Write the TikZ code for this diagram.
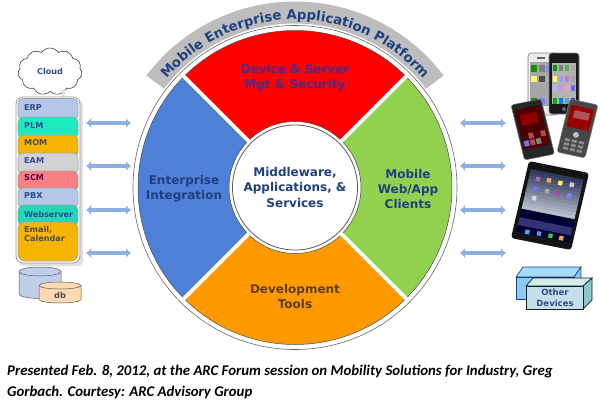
\documentclass[tikz,border=0pt]{standalone}
\usepackage{fontspec}
\setmainfont{DejaVu Sans}
\newfontfamily\capfont{Carlito}
\usetikzlibrary{arrows.meta,shapes.geometric,shapes.symbols,decorations.text}
\definecolor{navy}{HTML}{20407F}
\definecolor{stacktext}{HTML}{2F4B8F}
\definecolor{dblue}{HTML}{8FB0DE}
\definecolor{segred}{HTML}{FF0000}
\definecolor{segblue}{HTML}{4F80D8}
\definecolor{seggreen}{HTML}{92D050}
\definecolor{segorange}{HTML}{FF9900}
\definecolor{band}{HTML}{BDBDBD}
\definecolor{bluecell}{HTML}{B4C7E7}
\definecolor{teal1}{HTML}{1CEBC0}
\definecolor{teal2}{HTML}{20D8B8}
\definecolor{amber}{HTML}{F5B400}
\definecolor{greycell}{HTML}{D2D2D2}
\definecolor{pink}{HTML}{F98080}
\definecolor{skytop}{HTML}{2E3A5E}
\definecolor{skylow}{HTML}{B8BECB}
\newcommand\bxf[5]{\fill[#1] (#2,#3) -- (#4,#3) -- (#4,#5) -- (#2,#5) -- cycle;}
\tikzset{
  x=1pt,y=-1pt,
  dbl/.style={line width=4.4pt,dblue,{Latex[length=5pt,width=10pt]}-{Latex[length=5pt,width=10pt]}},
  cell/.style={draw=black!35,line width=.7pt,rounded corners=5pt},
  celltext/.style={font=\bfseries\fontsize{8.1}{9.6}\selectfont,text=stacktext,anchor=west,inner sep=0pt,align=left},
  seg/.style={draw=black!70,line width=.5pt},
  segtext/.style={font=\bfseries\fontsize{12}{15.3}\selectfont,text=navy,align=center,inner sep=0pt},
  boxtext/.style={font=\bfseries\fontsize{8.5}{11}\selectfont,text=stacktext,align=center,inner sep=0pt},
  captext/.style={font=\capfont\bfseries\itshape\fontsize{14.8}{16}\selectfont,text=black,anchor=base west,inner sep=0pt},
  gap/.style={white,line width=3.6pt},
  cylline/.style={draw=black!65,line width=.5pt}
}
\begin{document}
\begin{tikzpicture}
\useasboundingbox (0,0) rectangle (600,400);
\fill[white] (0,0) rectangle (600,400);

% ---------- gray band + wheel
\begin{scope}[shift={(295,187.5)},y=1pt]
  \fill[band] (143:164) arc[start angle=143,end angle=37,radius=164] -- (37:186) arc[start angle=37,end angle=143,radius=186] -- cycle;
  \fill[white,draw=black!60,line width=.6pt] (0,0) circle[radius=162];
  \path[seg,fill=segred] (45:66) -- (45:157) arc[start angle=45,end angle=135,radius=157] -- (135:66) arc[start angle=135,end angle=45,radius=66] -- cycle;
  \path[seg,fill=seggreen] (-45:66) -- (-45:157) arc[start angle=-45,end angle=45,radius=157] -- (45:66) arc[start angle=45,end angle=-45,radius=66] -- cycle;
  \path[seg,fill=segorange] (225:66) -- (225:157) arc[start angle=225,end angle=315,radius=157] -- (315:66) arc[start angle=315,end angle=225,radius=66] -- cycle;
  \path[seg,fill=segblue] (135:66) -- (135:157) arc[start angle=135,end angle=225,radius=157] -- (225:66) arc[start angle=225,end angle=135,radius=66] -- cycle;
  \foreach \a in {45,135,225,315}{\draw[gap] (\a:64) -- (\a:159);}
  \fill[white,draw=black!65,line width=.8pt] (0,0) circle[radius=62.5];
  \path[decorate,decoration={text along path,text align=center,
     text={|\bfseries\fontsize{13.3}{15}\selectfont\color{navy}|Mobile Enterprise Application Platform}}]
     (146:168) arc[start angle=146,end angle=34,radius=168];
\end{scope}

\node[segtext] (device) at (295,78) {\textcolor[HTML]{4A2A8C}{Device \& Server}\\\textcolor[HTML]{4A2A8C}{Mgt \& Security}};
\node[segtext] (middle) at (295,187.5) {Middleware,\\Applications, \&\\Services};
\node[segtext] (enterprise) at (184,189) {Enterprise\\Integration};
\node[segtext] (mobile) at (408,189) {Mobile\\Web/App\\Clients};
\node[segtext,text=black!20!brown!60!black] (devtools) at (295,296.5) {Development\\Tools};

% ---------- arrows
\foreach \n/\yy in {1/123,2/166,3/210,4/253}{
  \coordinate (la\n) at (86,\yy);
  \coordinate (lb\n) at (131,\yy);
  \coordinate (ra\n) at (460,\yy);
  \coordinate (rb\n) at (506,\yy);
  \draw[dbl] (la\n) -- (lb\n);
  \draw[dbl] (ra\n) -- (rb\n);
}

% ---------- cloud
\node[cloud,cloud puffs=11,cloud puff arc=110,draw=black!75,fill=white,line width=.6pt,minimum width=64pt,minimum height=47pt,inner sep=0pt,font=\bfseries\fontsize{8.1}{9}\selectfont,text=stacktext] (cloud) at (50,71.5) {Cloud};

% ---------- stack
\fill[black!12] (62,90) rectangle (65,97);
\fill[black!12,rounded corners=5pt] (19,100) rectangle (83,266);
\draw[fill=white,draw=black!40,line width=.8pt,rounded corners=7pt] (16,97) rectangle (80,263);
\draw[cell,fill=bluecell] (18,98.5) rectangle (78,120);
\draw[cell,fill=teal1] (18,117) rectangle (78,139);
\draw[cell,fill=amber] (18,135) rectangle (78,157);
\draw[cell,fill=greycell] (18,153) rectangle (78,174);
\draw[cell,fill=pink] (18,171) rectangle (78,191);
\draw[cell,fill=bluecell] (18,188) rectangle (78,208);
\draw[cell,fill=teal2] (18,205) rectangle (78,226);
\draw[cell,fill=amber,rounded corners=7pt] (18,222) rectangle (78,261);
\node[celltext] (erp) at (24,108) {ERP};
\node[celltext] (plm) at (24,125.5) {PLM};
\node[celltext,text=black!70] (mom) at (24,143) {MOM};
\node[celltext] (eam) at (24,161) {EAM};
\node[celltext,text=violet!70!black] (scm) at (24,178) {SCM};
\node[celltext] (pbx) at (24,196) {PBX};
\node[celltext] (web) at (24,214) {Webserver};
\node[celltext,anchor=north west,text=black!70] (mail) at (24,226) {Email,\\Calendar};

% ---------- db
\draw[cylline,fill=bluecell!85!white] (19,271.5) -- (19,294) arc[start angle=180,end angle=360,x radius=21,y radius=-4.5] -- (61,271.5) arc[start angle=0,end angle=180,x radius=21,y radius=-4.5] -- cycle;
\draw[cylline] (19,271.5) arc[start angle=180,end angle=360,x radius=21,y radius=-4.5];
\draw[cylline,fill=orange!30!white] (39,285.5) -- (39,299.5) arc[start angle=180,end angle=360,x radius=21,y radius=-3.5] -- (81,285.5) arc[start angle=0,end angle=180,x radius=21,y radius=-3.5] -- cycle;
\draw[cylline] (39,285.5) arc[start angle=180,end angle=360,x radius=21,y radius=-3.5];
\node[font=\bfseries\fontsize{8.1}{9}\selectfont,text=black!70,inner sep=0pt] (db) at (60,295) {db};

% ---------- other devices
\draw[draw=navy,line width=.7pt,fill=blue!40!cyan!35!white] (516,277) -- (523,267) -- (581,267) -- (574,277) -- cycle;
\draw[draw=navy,line width=.7pt,fill=blue!45!cyan!45!white] (574,277) -- (581,267) -- (581,289) -- (574,299) -- cycle;
\draw[draw=navy,line width=.7pt,fill=blue!45!cyan!45!white] (516,277) rectangle (574,299);
\draw[draw=black!70!teal,line width=.7pt,fill=teal!15!white] (526,286) -- (533,278) -- (592,278) -- (583,286) -- cycle;
\draw[draw=black!70!teal,line width=.7pt,fill=teal!45!white] (583,286) -- (592,278) -- (592,300) -- (583,309) -- cycle;
\draw[draw=black!70!teal,line width=.7pt,fill=cyan!25!teal!25!white] (526,286) rectangle (583,309);
\node[boxtext] (other) at (555,297.5) {Other\\Devices};

% ---------- iPad
\begin{scope}[shift={(529,161)},x={(60pt,-12pt)},y={(-18pt,-77pt)}]
  \fill[black!92,rounded corners=3pt] (0,0) -- (1,0) -- (1,1) -- (0,1) -- cycle;
  \foreach \i in {0,...,11}{
    \pgfmathsetmacro\p{100-\i*9}
    \pgfmathsetmacro\va{.095+\i*.043}
    \pgfmathsetmacro\vb{.145+\i*.043}
    \pgfmathsetmacro\pp{100-\p}
    \bxf{skylow!\pp!skytop}{.06}{\va}{.94}{\vb}
  }
  \bxf{black!80!blue}{.06}{.61}{.94}{.91}
  \bxf{black!55!blue!60!gray}{.06}{.72}{.94}{.82}
  \foreach \u/\v/\c in {.21/.2/violet!60!white,.39/.19/orange!70!white,.58/.196/yellow!70!white,.77/.188/gray!40!violet!30!white,
     .21/.33/blue!55!white,.4/.33/gray!70!white,.58/.33/violet!70!white,.77/.33/blue!50!white,.22/.448/white!70!gray,
     .237/.885/blue!50!cyan!70!white,.43/.875/cyan!60!blue!70!white,.62/.875/green!50!gray,.8/.877/orange!70!white}{
    \pgfmathsetmacro\ua{\u-.035}\pgfmathsetmacro\ub{\u+.035}\pgfmathsetmacro\va{\v-.028}\pgfmathsetmacro\vb{\v+.028}
    \bxf{\c}{\ua}{\va}{\ub}{\vb}
  }
\end{scope}

% ---------- iPhones
\begin{scope}[shift={(528,53)},x={(30pt,0pt)},y={(0pt,-62pt)}]
  \fill[black!8,draw=black!50,line width=.6pt,rounded corners=3pt] (0,0) rectangle (1,1);
  \fill[black!35] (.08,.14) rectangle (.78,.85);
  \fill[black!60] (.3,.07) rectangle (.55,.09);
  \foreach \u/\v/\c in {.2/.25/green!60!black,.45/.25/gray,.7/.25/blue!45!white,.2/.42/yellow!60!white,.45/.42/black!70,.7/.42/gray!60,.2/.78/green!60!black,.45/.78/blue!50!white}{
    \fill[\c] (\u-.1,\v-.05) rectangle (\u+.1,\v+.05);
  }
\end{scope}
\begin{scope}[shift={(549,53)},x={(30pt,0pt)},y={(0pt,-61pt)}]
  \fill[black!90,draw=black!50,line width=.6pt,rounded corners=3pt] (0,0) rectangle (1,1);
  \fill[black!30] (.1,.16) rectangle (.9,.84);
  \foreach \u/\v/\c in {.2/.25/green!60!black,.4/.25/gray,.6/.25/green!40!gray,.8/.25/gray!70,
    .2/.42/yellow!60!white,.4/.42/blue!40!white,.6/.42/violet!50!white,.8/.42/gray!70,
    .2/.58/blue!30!white,.4/.58/violet!40!white,.6/.58/magenta!40!white,.8/.58/blue!60!white,
    .2/.78/green!70!black,.4/.78/blue!50!cyan,.6/.78/cyan!50!gray,.8/.78/blue!50!gray}{
    \fill[\c] (\u-.08,\v-.05) rectangle (\u+.08,\v+.05);
  }
  \fill[black!60] (.5,.92) circle[radius=2pt];
\end{scope}

% ---------- left phone
\begin{scope}[shift={(511,105)},x={(30pt,6pt)},y={(13.5pt,-55pt)}]
  \fill[black!85,draw=black!55,line width=.5pt,rounded corners=2.5pt] (0,0) -- (1,0) -- (1,1) -- (0,1) -- cycle;
  \bxf{red!30!black}{.08}{.1}{.92}{.82}
  \bxf{red!55!black}{.2}{.2}{.75}{.4}
  \foreach \u/\v/\c in {.4/.6/red!40!gray,.6/.6/red!35!black,.8/.6/red!45!gray,.2/.72/blue!55!white,.4/.72/red!40!gray,.6/.72/gray,.8/.72/red!40!black}{
    \pgfmathsetmacro\ua{\u-.08}\pgfmathsetmacro\ub{\u+.08}\pgfmathsetmacro\va{\v-.05}\pgfmathsetmacro\vb{\v+.05}
    \bxf{\c}{\ua}{\va}{\ub}{\vb}
  }
\end{scope}

% ---------- right phone
\begin{scope}[shift={(570,99)},x={(28pt,-6pt)},y={(-13pt,-53pt)}]
  \fill[black!72,draw=black!50,line width=.5pt,rounded corners=2.5pt] (0,0) -- (1,0) -- (1,1) -- (0,1) -- cycle;
  \bxf{red!60!black}{.1}{.1}{.9}{.5}
  \bxf{red!35!gray}{.25}{.18}{.8}{.32}
  \fill[black!25] (.5,.62) circle[radius=3pt];
  \foreach \v in {.74,.82,.9}{\foreach \u in {.25,.5,.75}{
    \pgfmathsetmacro\ua{\u-.09}\pgfmathsetmacro\ub{\u+.09}\pgfmathsetmacro\va{\v-.025}\pgfmathsetmacro\vb{\v+.025}
    \bxf{black!45}{\ua}{\va}{\ub}{\vb}}}
\end{scope}

% ---------- caption
\node[captext] (cap1) at (7,375) {Presented Feb. 8, 2012, at the ARC Forum session on Mobility Solutions for Industry, Greg};
\node[captext] (cap2) at (7,396) {Gorbach. Courtesy: ARC Advisory Group};
\end{tikzpicture}
\end{document}
